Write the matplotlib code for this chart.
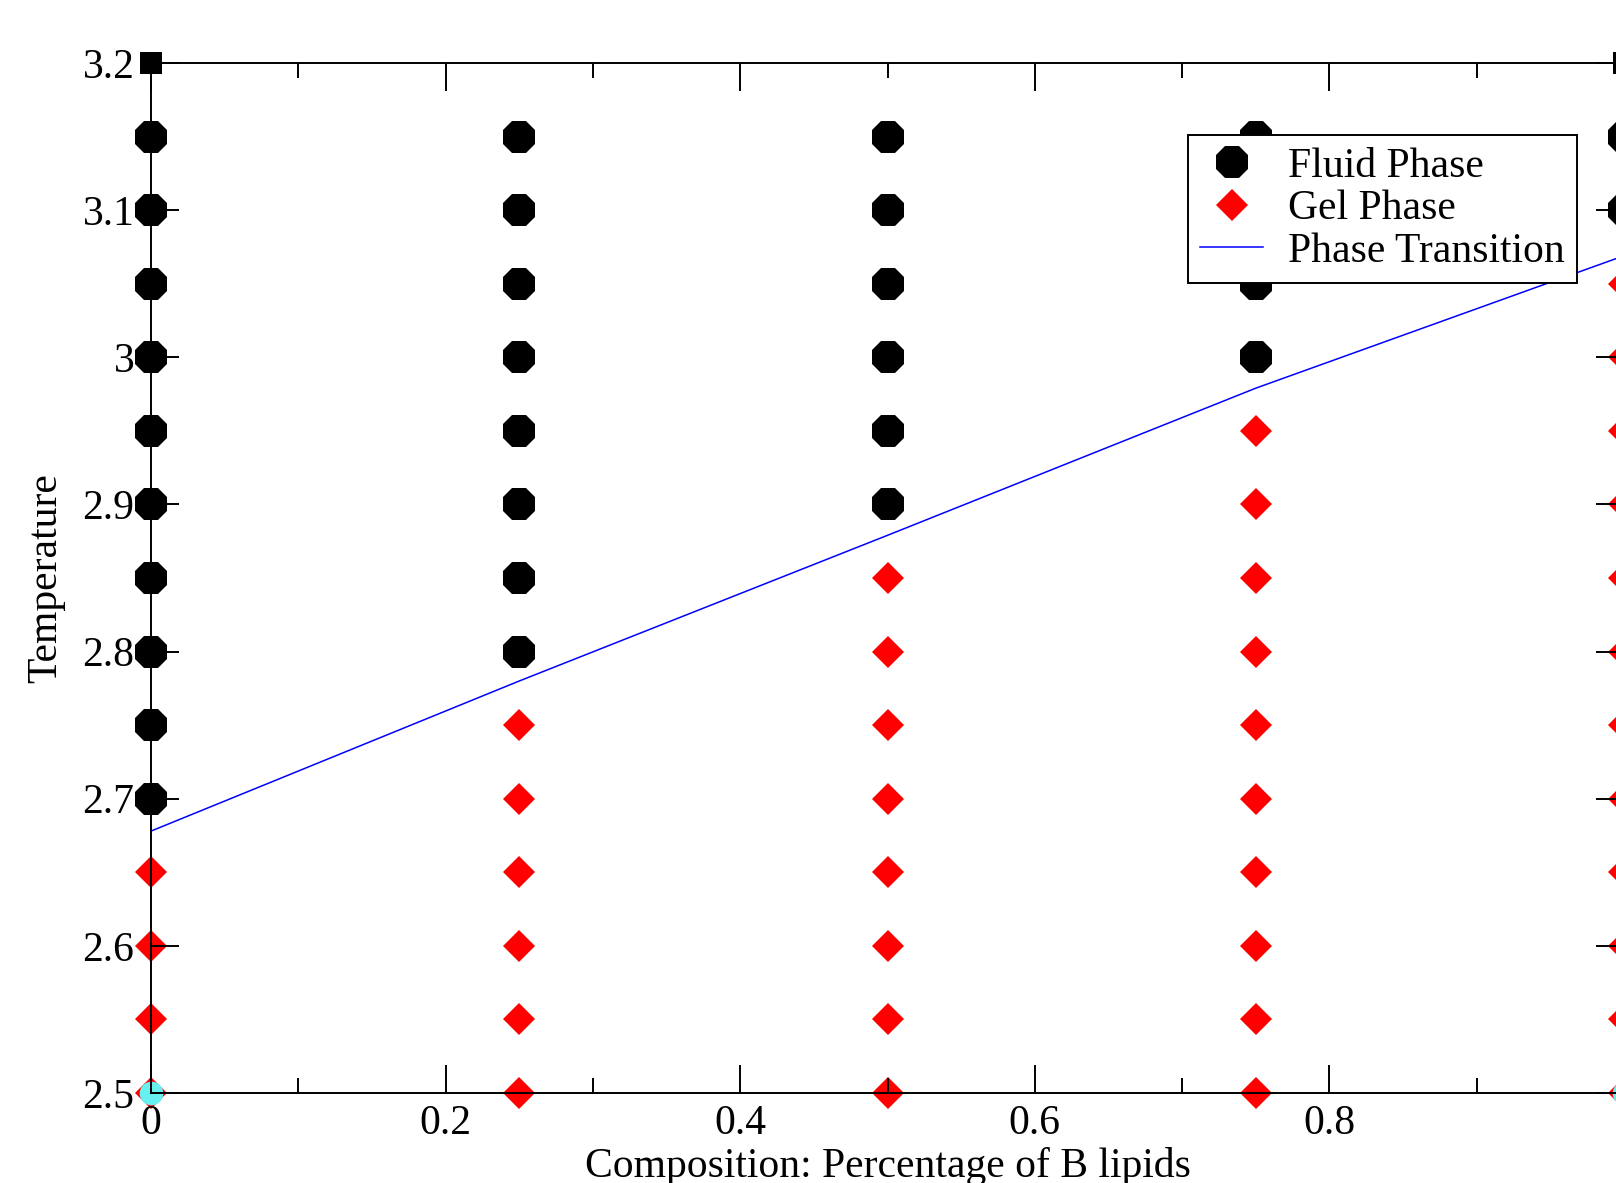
import matplotlib
matplotlib.use("Agg")
import matplotlib.pyplot as plt
from matplotlib.ticker import MultipleLocator

plt.rcParams['font.family'] = ['Liberation Serif', 'DejaVu Serif']

# ---- data ----
fluid_x = [0, 0, 0, 0, 0, 0, 0, 0, 0, 0,
           0.25, 0.25, 0.25, 0.25, 0.25, 0.25, 0.25, 0.25,
           0.5, 0.5, 0.5, 0.5, 0.5, 0.5,
           0.75, 0.75, 0.75, 0.75,
           1.0, 1.0]
fluid_y = [2.70, 2.75, 2.80, 2.85, 2.90, 2.95, 3.00, 3.05, 3.10, 3.15,
           2.80, 2.85, 2.90, 2.95, 3.00, 3.05, 3.10, 3.15,
           2.90, 2.95, 3.00, 3.05, 3.10, 3.15,
           3.00, 3.05, 3.10, 3.15,
           3.10, 3.15]

gel_x = [0, 0, 0, 0,
         0.25, 0.25, 0.25, 0.25, 0.25, 0.25,
         0.5, 0.5, 0.5, 0.5, 0.5, 0.5, 0.5, 0.5,
         0.75, 0.75, 0.75, 0.75, 0.75, 0.75, 0.75, 0.75, 0.75, 0.75,
         1.0, 1.0, 1.0, 1.0, 1.0, 1.0, 1.0, 1.0, 1.0, 1.0, 1.0, 1.0]
gel_y = [2.50, 2.55, 2.60, 2.65,
         2.50, 2.55, 2.60, 2.65, 2.70, 2.75,
         2.50, 2.55, 2.60, 2.65, 2.70, 2.75, 2.80, 2.85,
         2.50, 2.55, 2.60, 2.65, 2.70, 2.75, 2.80, 2.85, 2.90, 2.95,
         2.50, 2.55, 2.60, 2.65, 2.70, 2.75, 2.80, 2.85, 2.90, 2.95, 3.00, 3.05]

trans_x = [0, 0.25, 0.5, 0.75, 1.0]
trans_y = [2.678, 2.780, 2.879, 2.979, 3.069]

corner_sq_x = [0, 1.0]
corner_sq_y = [3.2, 3.2]
corner_cy_x = [0, 1.0]
corner_cy_y = [2.5, 2.5]

x_ticks = [0, 0.2, 0.4, 0.6, 0.8, 1.0]
x_ticklabels = ["0", "0.2", "0.4", "0.6", "0.8", ""]
y_ticks = [2.5, 2.6, 2.7, 2.8, 2.9, 3.0, 3.1, 3.2]
y_ticklabels = ["2.5", "2.6", "2.7", "2.8", "2.9", "3", "3.1", "3.2"]

labels = ["Fluid Phase", "Gel Phase", "Phase Transition"]
xlabel = "Composition: Percentage of B lipids"
ylabel = "Temperature"

FS = 30

# ---- figure ----
fig = plt.figure(figsize=(16.16, 11.83), dpi=100)
ax = fig.add_axes([151/1616, (1183-1093)/1183, (1624-151)/1616, (1093-63)/1183])
ax.set_axisbelow(False)

ax.plot(fluid_x, fluid_y, linestyle='none', marker='8', markersize=25,
        color='black', markeredgewidth=0, clip_on=False, label=labels[0], zorder=2)
ax.plot(gel_x, gel_y, linestyle='none', marker='D', markersize=16,
        color='#ff0000', markeredgewidth=0, clip_on=False, label=labels[1], zorder=2)
ax.plot(trans_x, trans_y, color='#0000ff', linewidth=1.1, label=labels[2], zorder=2.1)

# grace artifacts at corners
ax.plot(corner_sq_x, corner_sq_y, linestyle='none', marker='s', markersize=16,
        color='black', markeredgewidth=0, clip_on=False, zorder=2.2)
ax.plot(corner_cy_x, corner_cy_y, linestyle='none', marker='o', markersize=17,
        color='#66f0f0', markeredgewidth=0, clip_on=False, zorder=2.3)

ax.set_xlim(0, 1.0)
ax.set_ylim(2.5, 3.2)
ax.set_xticks(x_ticks)
ax.set_xticklabels(x_ticklabels)
ax.set_yticks(y_ticks)
ax.set_yticklabels(y_ticklabels)
ax.xaxis.set_minor_locator(MultipleLocator(0.1))

ax.tick_params(axis='both', which='major', direction='in', length=20, width=1.4,
               top=True, right=True, labelsize=FS, colors='black')
ax.tick_params(axis='x', which='major', pad=8)
ax.tick_params(axis='y', which='major', pad=12)
ax.tick_params(axis='x', which='minor', direction='in', length=10.5, width=1.4,
               top=True, bottom=True)
for s in ax.spines.values():
    s.set_linewidth(1.4)

ax.set_xlabel(xlabel, fontsize=FS)
ax.set_ylabel(ylabel, fontsize=FS)
ax.xaxis.set_label_coords(0.5, -0.052)
ax.yaxis.set_label_coords(-0.058, 0.5)

leg = ax.legend(loc='upper right', bbox_to_anchor=(1577/1616, 1 - 135/1183),
                bbox_transform=fig.transFigure, borderaxespad=0, fontsize=FS,
                numpoints=1, fancybox=False, framealpha=1, edgecolor='black',
                handlelength=1.5, handletextpad=0.6, labelspacing=0.09,
                borderpad=0.3)
leg.get_frame().set_linewidth(1.4)

fig.savefig('out.png', dpi=100)
